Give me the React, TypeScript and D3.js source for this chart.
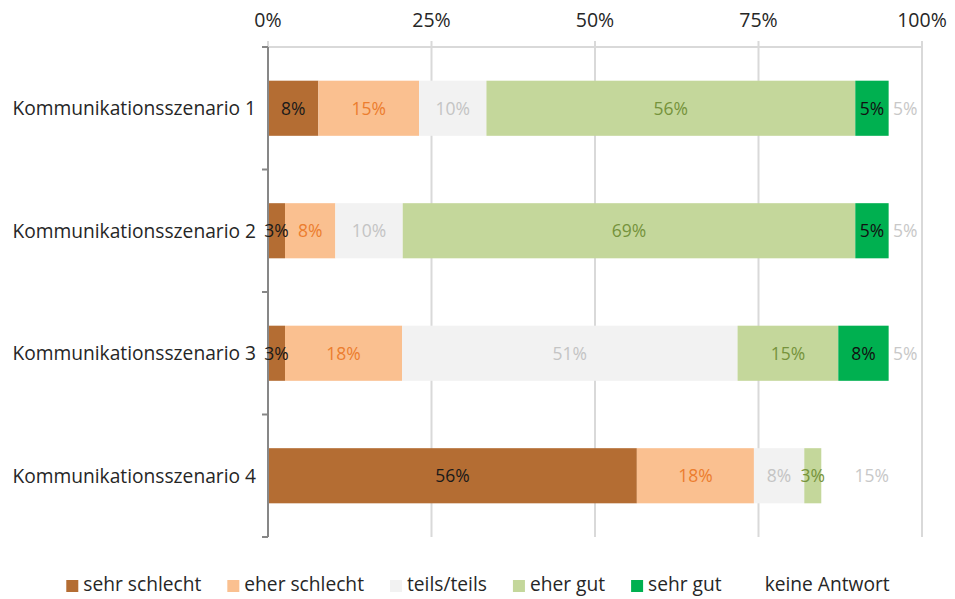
import { useEffect, useRef } from 'react';
import * as d3 from 'd3';

// categories (top to bottom)
const scenarios = [
  'Kommunikationsszenario 1',
  'Kommunikationsszenario 2',
  'Kommunikationsszenario 3',
  'Kommunikationsszenario 4',
];

const answerLabels = ['sehr schlecht', 'eher schlecht', 'teils/teils', 'eher gut', 'sehr gut', 'keine Antwort'];

// shares in percent, one array per answer, in scenario order
const sehrSchlecht = [7.7, 2.6, 2.6, 56.4];
const eherSchlecht = [15.4, 7.7, 17.9, 17.9];
const teilsTeils = [10.3, 10.3, 51.3, 7.7];
const eherGut = [56.4, 69.2, 15.4, 2.6];
const sehrGut = [5.1, 5.1, 7.7, 0];
const keineAntwort = [5.1, 5.1, 5.1, 15.4];

const xTicks = [0, 25, 50, 75, 100];

const fills = ['#b46d33', '#fac090', '#f2f2f2', '#c4d79b', '#00b050', 'none'];
const labelColors = ['#1a1a1a', '#ec7d2e', '#c4c4c4', '#76933c', '#111111', '#c8c8c8'];

const W = 955;
const H = 599;
const FONT = '"Open Sans", "Noto Sans", sans-serif';

const App = () => {
  const svgRef = useRef<SVGSVGElement>(null);

  useEffect(() => {
    if (!svgRef.current) return;
    const root = d3.select(svgRef.current);
    root.selectAll('*').remove();

    const series = [sehrSchlecht, eherSchlecht, teilsTeils, eherGut, sehrGut, keineAntwort];
    const rows = scenarios.map((name, i) => {
      const row: Record<string, number | string> = { name };
      answerLabels.forEach((a, k) => { row[a] = series[k][i]; });
      return row;
    });

    const stacked = d3.stack<Record<string, number | string>>()
      .keys(answerLabels)
      .value((d, key) => d[key] as number)(rows);

    const plot = { left: 268, right: 922, top: 47, bottom: 537 };

    const x = d3.scaleLinear().domain([0, 100]).range([plot.left, plot.right]);
    const y = d3.scaleBand()
      .domain(scenarios)
      .range([plot.top, plot.bottom])
      .paddingInner(0.55)
      .paddingOuter(0.275);
    const yStep = (plot.bottom - plot.top) / scenarios.length;

    const g = root.append('g');

    // vertical gridlines
    g.append('g')
      .selectAll('line')
      .data(xTicks.filter(t => t > 0))
      .join('line')
      .attr('x1', d => x(d))
      .attr('x2', d => x(d))
      .attr('y1', plot.top - 6)
      .attr('y2', plot.bottom)
      .attr('stroke', '#d9d9d9')
      .attr('stroke-width', 2);

    // top horizontal line
    g.append('line')
      .attr('x1', plot.left)
      .attr('x2', plot.right)
      .attr('y1', plot.top)
      .attr('y2', plot.top)
      .attr('stroke', '#d9d9d9')
      .attr('stroke-width', 2);

    g.append('line')
      .attr('x1', x(0))
      .attr('x2', x(0))
      .attr('y1', plot.top - 6)
      .attr('y2', plot.top)
      .attr('stroke', '#d9d9d9')
      .attr('stroke-width', 2);

    // x tick labels on top
    g.append('g')
      .selectAll('text')
      .data(xTicks)
      .join('text')
      .attr('x', d => x(d))
      .attr('y', 27)
      .attr('text-anchor', 'middle')
      .style('font-family', FONT)
      .style('font-size', '19.5px')
      .style('fill', '#262626')
      .text(d => `${d}%`);

    // bars
    const layers = g.append('g')
      .selectAll('g')
      .data(stacked)
      .join('g')
      .attr('fill', (_, k) => fills[k]);

    layers.selectAll('rect')
      .data(d => d.map(p => ({ p, name: (p.data as any).name as string })))
      .join('rect')
      .attr('x', d => x(d.p[0]))
      .attr('width', d => x(d.p[1]) - x(d.p[0]))
      .attr('y', d => y(d.name)!)
      .attr('height', y.bandwidth());

    // left axis
    g.append('line')
      .attr('x1', plot.left)
      .attr('x2', plot.left)
      .attr('y1', plot.top)
      .attr('y2', plot.bottom)
      .attr('stroke', '#878787')
      .attr('stroke-width', 2);

    g.append('g')
      .selectAll('line')
      .data(d3.range(scenarios.length + 1))
      .join('line')
      .attr('x1', plot.left - 6)
      .attr('x2', plot.left)
      .attr('y1', i => plot.top + i * yStep)
      .attr('y2', i => plot.top + i * yStep)
      .attr('stroke', '#878787')
      .attr('stroke-width', 2);

    // value labels
    const labels = g.append('g');
    stacked.forEach((layer, k) => {
      labels.append('g')
        .selectAll('text')
        .data(layer.filter(p => p[1] - p[0] > 0))
        .join('text')
        .attr('x', p => x((p[0] + p[1]) / 2))
        .attr('y', p => y((p.data as any).name)! + y.bandwidth() / 2)
        .attr('dy', '0.36em')
        .attr('text-anchor', 'middle')
        .style('font-family', FONT)
        .style('font-size', '17.5px')
        .style('fill', labelColors[k])
        .text(p => `${Math.round(p[1] - p[0])}%`);
    });

    // category labels
    g.append('g')
      .selectAll('text')
      .data(scenarios)
      .join('text')
      .attr('x', plot.left - 12)
      .attr('y', d => y(d)! + y.bandwidth() / 2)
      .attr('dy', '0.36em')
      .attr('text-anchor', 'end')
      .style('font-family', FONT)
      .style('font-size', '19.2px')
      .style('fill', '#262626')
      .text(d => d);

    // legend, laid out by measured text widths and centred
    const legend = root.append('g');
    const items = legend.selectAll('g')
      .data(answerLabels)
      .join('g');
    items.append('rect')
      .attr('x', 0)
      .attr('y', -11)
      .attr('width', 12)
      .attr('height', 12)
      .attr('fill', (_, k) => fills[k]);
    const texts = items.append('text')
      .attr('x', 17)
      .attr('y', 0)
      .style('font-family', FONT)
      .style('font-size', '19.2px')
      .style('fill', '#262626')
      .text(d => d);

    const widths: number[] = [];
    texts.each(function () { widths.push((this as SVGTextElement).getComputedTextLength()); });
    const gap = 26;
    const itemW = widths.map(w => 17 + w);
    const total = d3.sum(itemW) + gap * (itemW.length - 1);
    let cx = 478 - total / 2;
    const offsets = itemW.map(w => { const o = cx; cx += w + gap; return o; });
    items.attr('transform', (_, k) => `translate(${offsets[k]},591)`);
  }, []);

  return (
    <div style={{ width: W, height: H }}>
      <svg ref={svgRef} width={W} height={H} style={{ display: 'block', marginLeft: -8, marginTop: -8 }} />
    </div>
  );
};

export default App;
